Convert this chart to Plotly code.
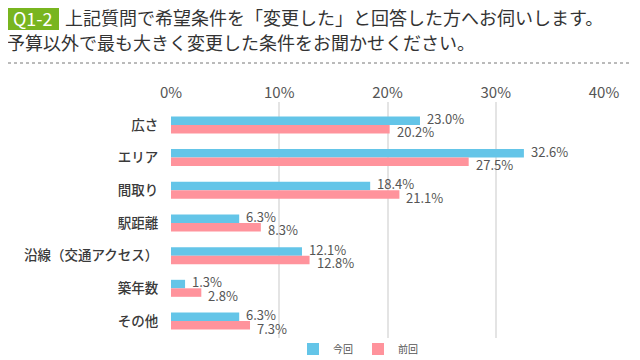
import plotly.graph_objects as go

categories = ["広さ", "エリア", "間取り", "駅距離", "沿線（交通アクセス）", "築年数", "その他"]
current_vals = [23.0, 32.6, 18.4, 6.3, 12.1, 1.3, 6.3]
previous_vals = [20.2, 27.5, 21.1, 8.3, 12.8, 2.8, 7.3]
series_names = ["今回", "前回"]
x_ticks = [0, 10, 20, 30, 40]
x_tick_labels = ["0%", "10%", "20%", "30%", "40%"]

title_tag = "Q1-2"
title_line1 = "上記質問で希望条件を「変更した」と回答した方へお伺いします。"
title_line2 = "予算以外で最も大きく変更した条件をお聞かせください。"

OFF = 8  # page body margin offset
W, H = 640 - OFF, 360 - OFF
# plot area in page pixels: x 171..604, y 102..338
L, R = 171 - OFF, W - (604 - OFF)
T, B = 102 - OFF, H - (338 - OFF)
PW, PH = W - L - R, H - T - B


def px(x):
    return (x - OFF - L) / PW


def py(y):
    return (H - B - (y - OFF)) / PH


FONT = "Noto Sans CJK JP"
BLUE = "#64c5e8"
PINK = "#ff939c"

fig = go.Figure()
fig.add_trace(go.Bar(y=categories, x=current_vals, orientation="h", name=series_names[0],
                     marker=dict(color=BLUE, line=dict(width=0))))
fig.add_trace(go.Bar(y=categories, x=previous_vals, orientation="h", name=series_names[1],
                     marker=dict(color=PINK, line=dict(width=0))))

annotations = []
for i, c in enumerate(categories):
    annotations.append(dict(x=current_vals[i], y=c, xref="x", yref="y", text=f"{current_vals[i]:.1f}%",
                            showarrow=False, xanchor="left", yanchor="middle", xshift=5, yshift=6.5,
                            font=dict(family=FONT, size=13, color="#555555")))
    annotations.append(dict(x=previous_vals[i], y=c, xref="x", yref="y", text=f"{previous_vals[i]:.1f}%",
                            showarrow=False, xanchor="left", yanchor="middle", xshift=5, yshift=-7,
                            font=dict(family=FONT, size=13, color="#555555")))

# header
annotations.append(dict(x=px(33), y=py(18), xref="paper", yref="paper", text=title_tag, showarrow=False,
                        xanchor="center", yanchor="middle", borderpad=0,
                        font=dict(family=FONT, size=18, color="white")))
annotations.append(dict(x=px(64), y=py(17), xref="paper", yref="paper", text=title_line1, showarrow=False,
                        xanchor="left", yanchor="middle", borderpad=0,
                        font=dict(family=FONT, size=18, color="#333333")))
annotations.append(dict(x=px(6), y=py(42), xref="paper", yref="paper", text=title_line2, showarrow=False,
                        xanchor="left", yanchor="middle", borderpad=0,
                        font=dict(family=FONT, size=18, color="#333333")))

shapes = [
    dict(type="rect", xref="paper", yref="paper", x0=px(8), x1=px(59), y0=py(8), y1=py(30),
         fillcolor="#78b51f", line=dict(width=0), layer="below"),
    dict(type="line", xref="paper", yref="paper", x0=px(8), x1=px(632), y0=py(63), y1=py(63),
         line=dict(color="#777777", width=1, dash="dot")),
]

fig.update_layout(
    width=W, height=H,
    margin=dict(l=L, r=R, t=T, b=B, autoexpand=False),
    paper_bgcolor="white", plot_bgcolor="white",
    barmode="group", bargap=0.48, bargroupgap=0,
    font=dict(family=FONT, color="#444444"),
    showlegend=True,
    legend=dict(orientation="h", x=px(358), y=py(349), xanchor="center", yanchor="middle",
                font=dict(family=FONT, size=10, color="#555555"), itemwidth=30,
                bgcolor="rgba(0,0,0,0)"),
    xaxis=dict(side="top", range=[0, 40], tickvals=x_ticks, ticktext=x_tick_labels,
               showgrid=True, gridcolor="#e4e4e4", gridwidth=1.5, zeroline=False, showline=False,
               tickfont=dict(family=FONT, size=15, color="#555555"), ticks="", fixedrange=True,
               automargin=False),
    yaxis=dict(type="category", range=[6.52, -0.7], showgrid=False, zeroline=False, showline=False,
               tickfont=dict(family=FONT, size=13.5, color="#3a3a3a", weight=500), ticks="outside", ticklen=9,
               tickcolor="rgba(0,0,0,0)", fixedrange=True, automargin=False),
    annotations=annotations,
    shapes=shapes,
)

fig.write_html("out.html")
